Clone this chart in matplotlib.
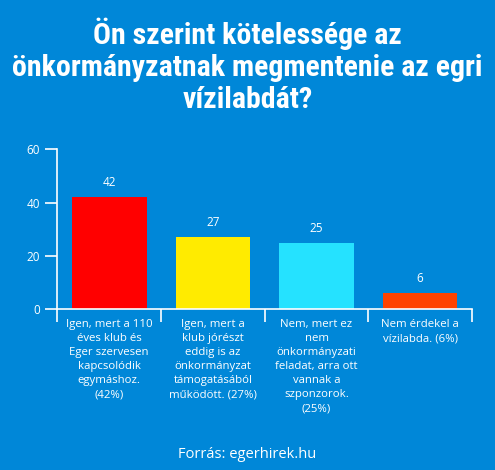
import matplotlib
matplotlib.use('Agg')
import matplotlib.pyplot as plt
import numpy as np

bg = '#0087d8'

title = 'Ön szerint kötelessége az\nönkormányzatnak megmentenie az egri\nvízilabdát?'
categories = ['Igen, mert a 110\néves klub és\nEger szervesen\nkapcsolódik\negymáshoz.\n(42%)',
              'Igen, mert a\nklub jórészt\neddig is az\nönkormányzat\ntámogatásából\nműködött. (27%)',
              'Nem, mert ez\nnem\nönkormányzati\nfeladat, arra ott\nvannak a\nszponzorok.\n(25%)',
              'Nem érdekel a\nvízilabda. (6%)']
values = [42, 27, 25, 6]
colors = ['#ff0000', '#ffeb00', '#25e2ff', '#ff4300']
y_ticks = [0, 20, 40, 60]
source = 'Forrás: egerhirek.hu'

fig = plt.figure(figsize=(4.95, 4.7), dpi=100, facecolor=bg)
ax = fig.add_axes([0.116, 0.342, 0.8375, 0.34])
ax.set_facecolor(bg)

x = np.arange(len(values))
bars = ax.bar(x, values, width=0.72, color=colors)
for b, v in zip(bars, values):
    ax.text(b.get_x() + b.get_width() / 2, v + 3, str(v), ha='center', va='bottom',
            color='white', fontsize=8.5, family='Open Sans')

ax.set_xlim(-0.5, len(values) - 0.5)
ax.set_ylim(0, 60)
ax.set_yticks(y_ticks)
ax.set_xticks(x)
ax.set_xticklabels(categories, color='white', fontsize=8.2, family='Open Sans',
                   linespacing=1.38, va='top')
ax.tick_params(axis='x', length=0, pad=7)
ax.set_xticks(np.arange(-0.5, len(values)), minor=True)
ax.tick_params(axis='x', which='minor', length=9, color='white', width=1.2, direction='out')
ax.tick_params(axis='y', length=9, color='white', width=1.2, labelcolor='white',
               labelsize=8.5)
for lab in ax.get_yticklabels():
    lab.set_family('Open Sans')

for s in ['top', 'right']:
    ax.spines[s].set_visible(False)
for s in ['left', 'bottom']:
    ax.spines[s].set_color('white')
    ax.spines[s].set_linewidth(1.2)

fig.text(0.5, 0.962, title, ha='center', va='top', color='white', fontsize=21.5,
         fontweight='bold', family=['Roboto Condensed', 'Roboto'],
         linespacing=1.18)
fig.text(0.5, 0.032, source, ha='center', va='center', color='white', fontsize=10.5,
         family='Open Sans')

fig.savefig('out.png', dpi=100, facecolor=bg)
